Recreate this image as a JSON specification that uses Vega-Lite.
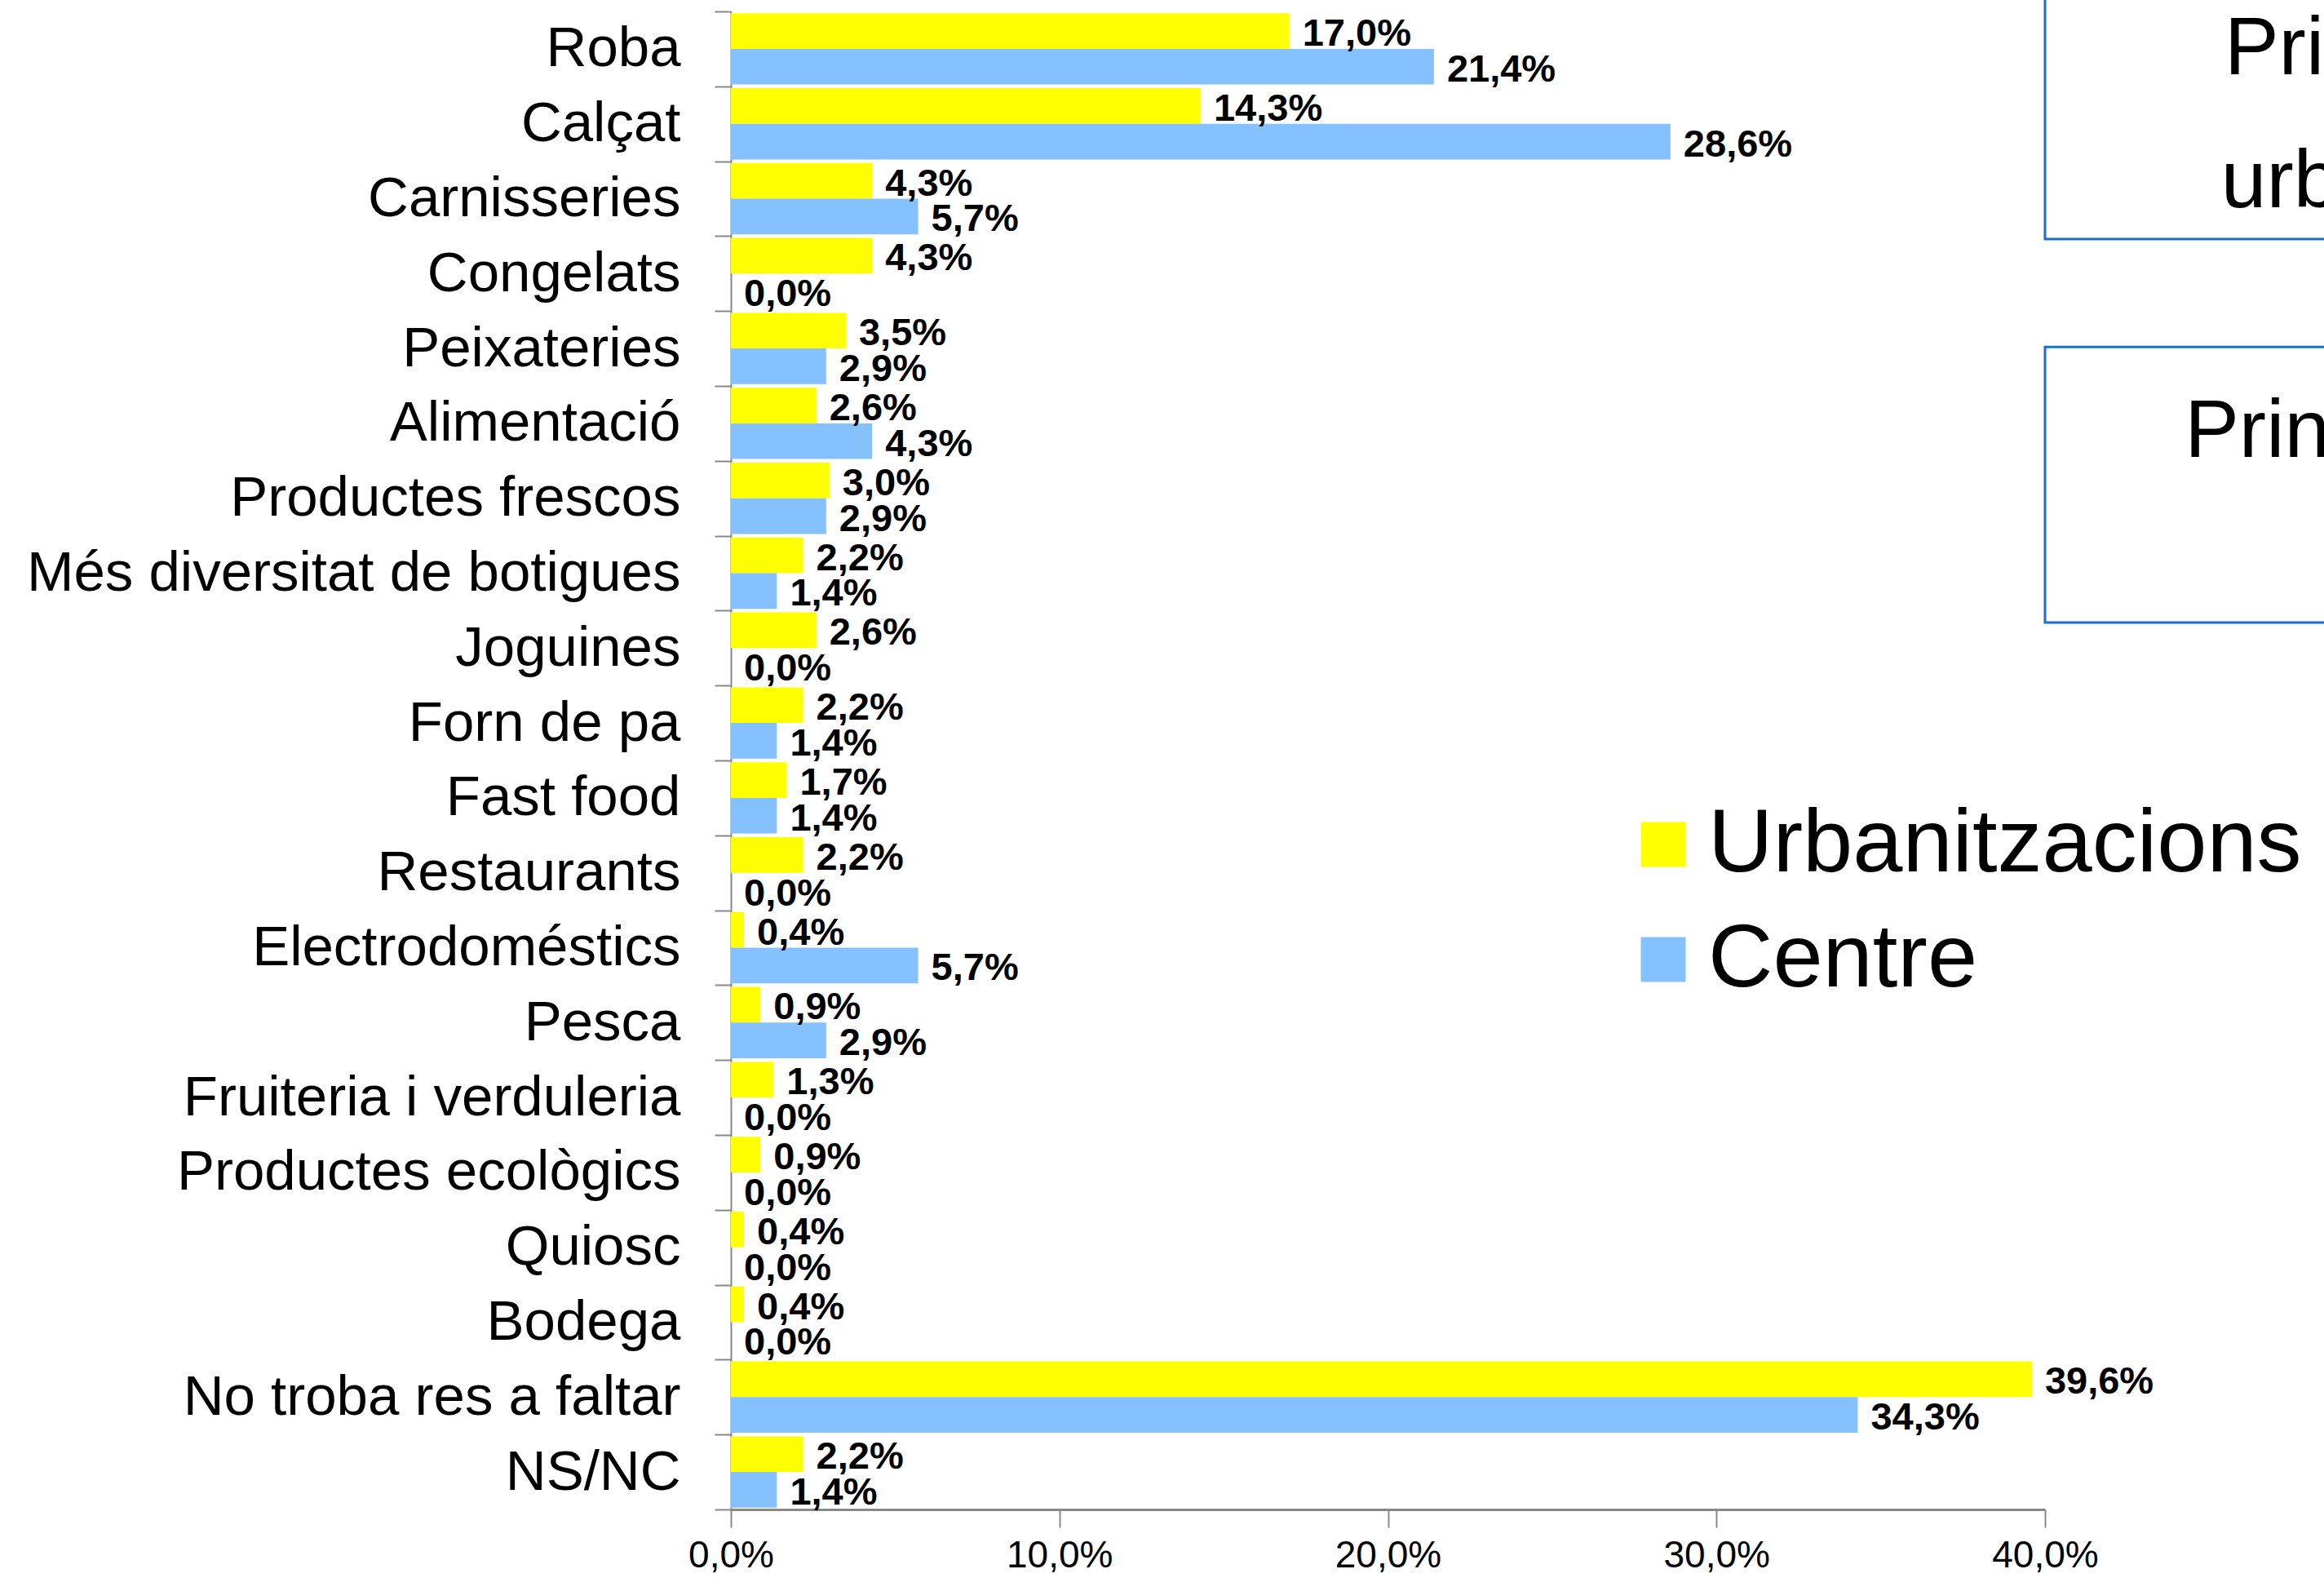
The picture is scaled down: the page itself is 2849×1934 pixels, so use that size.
{
  "$schema": "https://vega.github.io/schema/vega-lite/v6.json",
  "width": 1611,
  "height": 1836,
  "autosize": {"type": "none"},
  "padding": {"left": 896, "top": 14, "right": 342, "bottom": 84},
  "config": {
    "locale": {"number": {"decimal": ",", "thousands": ".", "grouping": [3], "currency": ["", " €"]}},
    "view": {"stroke": null},
    "font": "Liberation Sans"
  },
  "layer": [
    {
      "data": {"values": [
        {"cat": "Roba", "serie": "Urbanitzacions", "pct": 0.170},
        {"cat": "Roba", "serie": "Centre", "pct": 0.214},
        {"cat": "Calçat", "serie": "Urbanitzacions", "pct": 0.143},
        {"cat": "Calçat", "serie": "Centre", "pct": 0.286},
        {"cat": "Carnisseries", "serie": "Urbanitzacions", "pct": 0.043},
        {"cat": "Carnisseries", "serie": "Centre", "pct": 0.057},
        {"cat": "Congelats", "serie": "Urbanitzacions", "pct": 0.043},
        {"cat": "Congelats", "serie": "Centre", "pct": 0.0},
        {"cat": "Peixateries", "serie": "Urbanitzacions", "pct": 0.035},
        {"cat": "Peixateries", "serie": "Centre", "pct": 0.029},
        {"cat": "Alimentació", "serie": "Urbanitzacions", "pct": 0.026},
        {"cat": "Alimentació", "serie": "Centre", "pct": 0.043},
        {"cat": "Productes frescos", "serie": "Urbanitzacions", "pct": 0.030},
        {"cat": "Productes frescos", "serie": "Centre", "pct": 0.029},
        {"cat": "Més diversitat de botigues", "serie": "Urbanitzacions", "pct": 0.022},
        {"cat": "Més diversitat de botigues", "serie": "Centre", "pct": 0.014},
        {"cat": "Joguines", "serie": "Urbanitzacions", "pct": 0.026},
        {"cat": "Joguines", "serie": "Centre", "pct": 0.0},
        {"cat": "Forn de pa", "serie": "Urbanitzacions", "pct": 0.022},
        {"cat": "Forn de pa", "serie": "Centre", "pct": 0.014},
        {"cat": "Fast food", "serie": "Urbanitzacions", "pct": 0.017},
        {"cat": "Fast food", "serie": "Centre", "pct": 0.014},
        {"cat": "Restaurants", "serie": "Urbanitzacions", "pct": 0.022},
        {"cat": "Restaurants", "serie": "Centre", "pct": 0.0},
        {"cat": "Electrodoméstics", "serie": "Urbanitzacions", "pct": 0.004},
        {"cat": "Electrodoméstics", "serie": "Centre", "pct": 0.057},
        {"cat": "Pesca", "serie": "Urbanitzacions", "pct": 0.009},
        {"cat": "Pesca", "serie": "Centre", "pct": 0.029},
        {"cat": "Fruiteria i verduleria", "serie": "Urbanitzacions", "pct": 0.013},
        {"cat": "Fruiteria i verduleria", "serie": "Centre", "pct": 0.0},
        {"cat": "Productes ecològics", "serie": "Urbanitzacions", "pct": 0.009},
        {"cat": "Productes ecològics", "serie": "Centre", "pct": 0.0},
        {"cat": "Quiosc", "serie": "Urbanitzacions", "pct": 0.004},
        {"cat": "Quiosc", "serie": "Centre", "pct": 0.0},
        {"cat": "Bodega", "serie": "Urbanitzacions", "pct": 0.004},
        {"cat": "Bodega", "serie": "Centre", "pct": 0.0},
        {"cat": "No troba res a faltar", "serie": "Urbanitzacions", "pct": 0.396},
        {"cat": "No troba res a faltar", "serie": "Centre", "pct": 0.343},
        {"cat": "NS/NC", "serie": "Urbanitzacions", "pct": 0.022},
        {"cat": "NS/NC", "serie": "Centre", "pct": 0.014}
      ]},
      "encoding": {
        "y": {
          "field": "cat", "type": "nominal", "sort": null,
          "scale": {"paddingInner": 0, "paddingOuter": 0},
          "axis": {
            "title": null, "labelFontSize": 69, "labelColor": "black", "labelFont": "Liberation Sans",
            "tickBand": "extent", "tickSize": 20, "tickColor": "#888888", "tickWidth": 2,
            "domainColor": "#888888", "domainWidth": 2, "labelPadding": 42, "labelLimit": 1500
          }
        },
        "yOffset": {
          "field": "serie", "type": "nominal", "sort": ["Urbanitzacions", "Centre"],
          "scale": {"paddingInner": 0, "paddingOuter": 0.05}
        },
        "x": {
          "field": "pct", "type": "quantitative",
          "scale": {"domain": [0, 0.4], "nice": false},
          "axis": {
            "title": null, "values": [0, 0.1, 0.2, 0.3, 0.4], "format": ".1%",
            "labelFontSize": 46, "labelColor": "black", "labelFont": "Liberation Sans",
            "domainColor": "#888888", "domainWidth": 3, "tickColor": "#888888",
            "tickSize": 22, "tickWidth": 2, "grid": false, "labelPadding": 12, "labelFlush": false
          }
        }
      },
      "layer": [
        {
          "mark": {"type": "bar"},
          "encoding": {
            "color": {
              "field": "serie", "type": "nominal",
              "scale": {"domain": ["Urbanitzacions", "Centre"], "range": ["#FFFF00", "#85C1FF"]},
              "legend": {
                "orient": "none", "legendX": 1088, "legendY": 966, "title": null,
                "symbolType": "square", "symbolSize": 3025, "symbolStrokeWidth": 0,
                "labelFontSize": 110, "labelFont": "Liberation Sans", "labelColor": "black",
                "rowPadding": 31, "labelOffset": 0, "padding": 0, "labelLimit": 2000
              }
            }
          }
        },
        {
          "mark": {"type": "text", "align": "left", "baseline": "middle", "dx": 16, "dy": 4,
                   "fontSize": 47, "fontWeight": "bold", "font": "Liberation Sans", "color": "black"},
          "encoding": {
            "text": {"field": "pct", "type": "quantitative", "format": ".1%"}
          }
        }
      ]
    },
    {
      "data": {"values": [
        {"x0": 0.4, "x1": 0.6, "y0": -1, "y1": 3.04},
        {"x0": 0.4, "x1": 0.6, "y0": 4.48, "y1": 8.16}
      ]},
      "mark": {"type": "rect", "fill": "white", "fillOpacity": 0, "stroke": "#1A6FD0", "strokeWidth": 3, "clip": false},
      "encoding": {
        "x": {"field": "x0", "type": "quantitative", "title": null},
        "x2": {"field": "x1"},
        "y": {"field": "y0", "type": "quantitative", "scale": {"domain": [0, 20], "reverse": true, "nice": false, "zero": false}, "axis": null},
        "y2": {"field": "y1"}
      }
    },
    {
      "data": {"values": [
        {"tx": 0.4546, "ty": 0.84, "t": "Principals mancances"},
        {"tx": 0.4536, "ty": 2.61, "t": "urbanitzacions"},
        {"tx": 0.4425, "ty": 5.95, "t": "Principals mancances centre"}
      ]},
      "mark": {"type": "text", "align": "left", "baseline": "alphabetic", "fontSize": 100, "font": "Liberation Sans", "color": "black", "clip": false},
      "encoding": {
        "x": {"field": "tx", "type": "quantitative", "title": null},
        "y": {"field": "ty", "type": "quantitative", "scale": {"domain": [0, 20], "reverse": true, "nice": false, "zero": false}, "axis": null},
        "text": {"field": "t", "type": "nominal"}
      }
    }
  ],
  "resolve": {"scale": {"y": "independent"}}
}
